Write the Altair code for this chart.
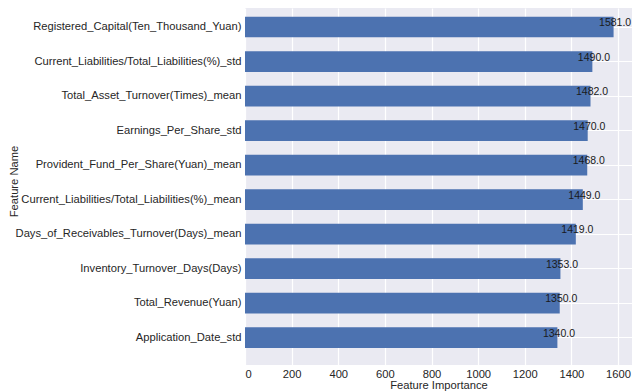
import altair as alt
import pandas as pd

features = [
    "Registered_Capital(Ten_Thousand_Yuan)",
    "Current_Liabilities/Total_Liabilities(%)_std",
    "Total_Asset_Turnover(Times)_mean",
    "Earnings_Per_Share_std",
    "Provident_Fund_Per_Share(Yuan)_mean",
    "Current_Liabilities/Total_Liabilities(%)_mean",
    "Days_of_Receivables_Turnover(Days)_mean",
    "Inventory_Turnover_Days(Days)",
    "Total_Revenue(Yuan)",
    "Application_Date_std",
]
importance = [1581, 1490, 1482, 1470, 1468, 1449, 1419, 1353, 1350, 1340]
x_ticks = [0, 200, 400, 600, 800, 1000, 1200, 1400, 1600]

df = pd.DataFrame({"Feature Name": features, "Feature Importance": importance})

FONT = "Liberation Sans"
TXT = "#262626"

y_enc = alt.Y(
    "Feature Name:N",
    sort=features,
    scale=alt.Scale(paddingInner=0.4, paddingOuter=0.371, align=0.3375, round=False),
    axis=alt.Axis(
        title="Feature Name",
        ticks=False,
        domain=False,
        labelPadding=4,
        labelFont=FONT,
        labelFontSize=11.2,
        labelColor=TXT,
        labelLimit=400,
        titleFont=FONT,
        titleFontSize=11.2,
        titleFontWeight="normal",
        titleColor=TXT,
        titleX=-226,
        titleY=173,
        grid=True,
        gridColor="white",
        gridWidth=1.2,
        bandPosition=0.5,
    ),
)

x_enc = alt.X(
    "Feature Importance:Q",
    scale=alt.Scale(domain=[0, 1660], nice=False, zero=True),
    axis=alt.Axis(
        title="Feature Importance",
        values=x_ticks,
        format="d",
        ticks=False,
        domain=False,
        labelPadding=3,
        labelFont=FONT,
        labelFontSize=11.2,
        labelColor=TXT,
        titleFont=FONT,
        titleFontSize=11.2,
        titleFontWeight="normal",
        titleColor=TXT,
        titlePadding=0,
        grid=True,
        gridColor="white",
        gridWidth=1.2,
    ),
)

bars = alt.Chart(df).mark_bar(color="#4C72B0").encode(x=x_enc, y=y_enc)

labels = alt.Chart(df).mark_text(
    align="left", baseline="alphabetic", dx=-14.5, dy=-1,
    font=FONT, fontSize=10.5, color="#1a1a1a",
).encode(
    x=alt.X("Feature Importance:Q"),
    y=alt.Y("Feature Name:N", sort=features),
    text=alt.Text("Feature Importance:Q", format=".1f"),
)

chart = (
    alt.layer(bars, labels)
    .properties(
        width=387,
        height=357,
        autosize=alt.AutoSizeParams(type="none"),
        padding={"left": 237, "top": 0, "right": 0, "bottom": 26},
        background="white",
    )
    .configure_view(fill="#EAEAF2", stroke=None)
)

chart.save("out.html", embed_options={"renderer": "svg", "actions": False})
